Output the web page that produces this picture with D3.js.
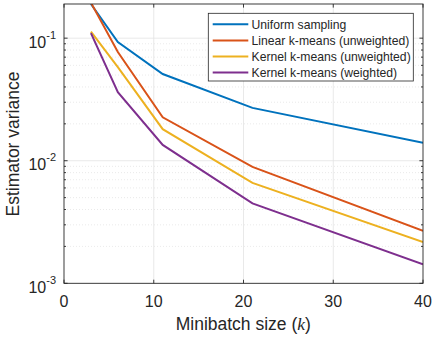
<!DOCTYPE html>
<html><head><meta charset="utf-8">
<script src="https://cdn.jsdelivr.net/npm/d3@7"></script>
<style>body{margin:0;background:#fff}text{font-family:"Liberation Sans",Arial,Helvetica,sans-serif;fill:#262626}</style>
</head><body><svg id="c" width="433" height="337"></svg>
<script>
const minibatch = [3, 6, 11, 21, 40];
const seriesNames = ["Uniform sampling", "Linear k-means (unweighted)", "Kernel k-means (unweighted)", "Kernel k-means (weighted)"];
const uniform = [0.19, 0.093, 0.051, 0.027, 0.014];
const linearUnw = [0.195, 0.077, 0.0226, 0.0089, 0.00268];
const kernelUnw = [0.113, 0.058, 0.0181, 0.0066, 0.00217];
const kernelW = [0.11, 0.0362, 0.01346, 0.00449, 0.00143];
const colors = ["#0072BD", "#D95319", "#EDB120", "#7E2F8E"];
const xTicks = [0, 10, 20, 30, 40];
const yTickExp = [-3, -2, -1];

const series = [uniform, linearUnw, kernelUnw, kernelW];
const svg = d3.select("#c");
const L = 64, T = 4, R = 423, B = 283.3;
const x = d3.scaleLinear().domain([0, 40]).range([L, R]);
const y = d3.scaleLog().domain([1e-3, 0.19]).range([B, T]);
const axisCol = "#262626";

// minor grid (y)
const minor = [];
for (let e = -3; e <= -1; e++) for (let m = 2; m <= 9; m++) { const v = m * Math.pow(10, e); if (v <= 0.19) minor.push(v); }
svg.append("g").selectAll("line").data(minor).join("line")
  .attr("x1", L).attr("x2", R).attr("y1", d => y(d)).attr("y2", d => y(d))
  .attr("stroke", "#dcdcdc").attr("stroke-width", 0.6).attr("stroke-dasharray", "1,2");
// major grid
svg.append("g").selectAll("line").data(yTickExp.slice(1)).join("line")
  .attr("x1", L).attr("x2", R).attr("y1", d => y(Math.pow(10, d))).attr("y2", d => y(Math.pow(10, d)))
  .attr("stroke", "#e3e3e3").attr("stroke-width", 0.8);
svg.append("g").selectAll("line").data(xTicks.slice(1, -1)).join("line")
  .attr("x1", d => x(d)).attr("x2", d => x(d)).attr("y1", T).attr("y2", B)
  .attr("stroke", "#e3e3e3").attr("stroke-width", 0.8);

// lines
svg.append("clipPath").attr("id", "clip").append("rect").attr("x", L).attr("y", T).attr("width", R - L).attr("height", B - T);
const line = d3.line().x((d, i) => x(minibatch[i])).y(d => y(d));
svg.append("g").attr("clip-path", "url(#clip)").selectAll("path").data(series).join("path")
  .attr("d", line).attr("fill", "none").attr("stroke", (d, i) => colors[i]).attr("stroke-width", 2);

// axes box
svg.append("rect").attr("x", L).attr("y", T).attr("width", R - L).attr("height", B - T)
  .attr("fill", "none").attr("stroke", axisCol).attr("stroke-width", 0.9);
// ticks
const tk = svg.append("g").attr("stroke", axisCol).attr("stroke-width", 0.9);
xTicks.forEach(v => {
  tk.append("line").attr("x1", x(v)).attr("x2", x(v)).attr("y1", B).attr("y2", B - 3.6);
  tk.append("line").attr("x1", x(v)).attr("x2", x(v)).attr("y1", T).attr("y2", T + 3.6);
});
yTickExp.forEach(e => {
  const yy = y(Math.pow(10, e));
  tk.append("line").attr("x1", L).attr("x2", L + 3.6).attr("y1", yy).attr("y2", yy);
  tk.append("line").attr("x1", R).attr("x2", R - 3.6).attr("y1", yy).attr("y2", yy);
});
minor.forEach(v => {
  const yy = y(v);
  tk.append("line").attr("x1", L).attr("x2", L + 2).attr("y1", yy).attr("y2", yy);
  tk.append("line").attr("x1", R).attr("x2", R - 2).attr("y1", yy).attr("y2", yy);
});

// tick labels
svg.append("g").selectAll("text").data(xTicks).join("text")
  .attr("x", d => x(d)).attr("y", 306.5).attr("text-anchor", "middle").attr("font-size", 16).text(d => d);
const yl = svg.append("g").selectAll("text").data(yTickExp).join("text")
  .attr("x", 56).attr("y", d => y(Math.pow(10, d)) + 9.5).attr("text-anchor", "end").attr("font-size", 16);
yl.append("tspan").text("10");
yl.append("tspan").attr("dy", -9).attr("font-size", 11).text(d => "-" + Math.abs(d));

// axis labels
svg.append("text").attr("x", 243.3).attr("y", 330).attr("text-anchor", "middle").attr("font-size", 17.5)
  .call(t => { t.append("tspan").text("Minibatch size ("); t.append("tspan").attr("font-family", "'Liberation Serif','Times New Roman',serif").attr("font-style", "italic").text("k"); t.append("tspan").text(")"); });
svg.append("text").attr("transform", "translate(19,144) rotate(-90)").attr("text-anchor", "middle").attr("font-size", 17.5).text("Estimator variance");

// legend
const lg = svg.append("g");
lg.append("rect").attr("x", 208.3).attr("y", 13.3).attr("width", 205).attr("height", 67.7)
  .attr("fill", "#fff").attr("stroke", axisCol).attr("stroke-width", 0.8);
seriesNames.forEach((n, i) => {
  const cy = 24.3 + i * 16.1;
  lg.append("line").attr("x1", 212.7).attr("x2", 248.3).attr("y1", cy).attr("y2", cy).attr("stroke", colors[i]).attr("stroke-width", 2);
  lg.append("text").attr("x", 251.5).attr("y", cy + 4.3).attr("font-size", 12.2).text(n);
});
</script></body></html>
